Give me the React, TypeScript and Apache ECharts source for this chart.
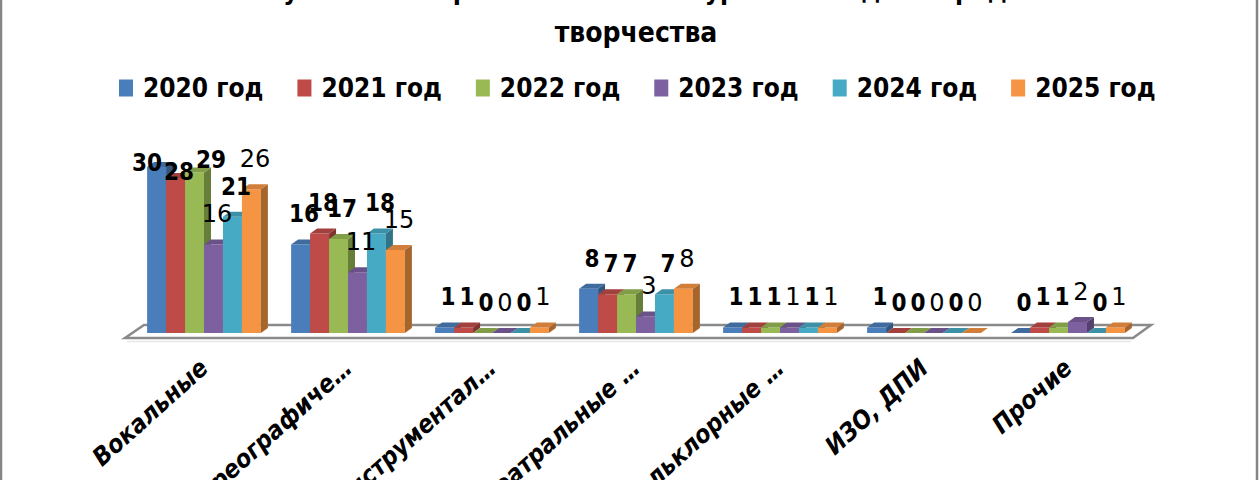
import React, { useEffect, useRef } from "react";
import * as echarts from "echarts";

const titleLine1 = "Число участников фестивалей и конкурсов по видам народного";
const titleLine2 = "творчества";
const categories = ["Вокальные", "Хореографиче…", "Инструментал…", "Театральные …", "Фольклорные …", "ИЗО, ДПИ", "Прочие"];
const years = ["2020 год", "2021 год", "2022 год", "2023 год", "2024 год", "2025 год"];
const v2020 = [30, 16, 1, 8, 1, 1, 0];
const v2021 = [28, 18, 1, 7, 1, 0, 1];
const v2022 = [29, 17, 0, 7, 1, 0, 1];
const v2023 = [16, 11, 0, 3, 1, 0, 2];
const v2024 = [21, 18, 0, 7, 1, 0, 0];
const v2025 = [26, 15, 1, 8, 1, 0, 1];
const seriesValues = [v2020, v2021, v2022, v2023, v2024, v2025];

const colors = ["#4A7EBB", "#BE4B48", "#98B954", "#7D60A0", "#46AAC5", "#F59443"];
const boldLabel = [true, true, true, false, true, false];

const COND = "'DejaVu Sans Condensed', 'DejaVu Sans', sans-serif";
const REG = "'DejaVu Sans', sans-serif";

function shade(hex: string, f: number) {
  const n = parseInt(hex.slice(1), 16);
  const r = Math.round(((n >> 16) & 255) * f);
  const g = Math.round(((n >> 8) & 255) * f);
  const b = Math.round((n & 255) * f);
  return `rgb(${r},${g},${b})`;
}

const DX = 7;
const DY = 5;

function geom(si: number, api: any) {
  const cat = api.value(0);
  const val = api.value(1);
  const base = api.coord([cat, 0]);
  const top = api.coord([cat, val]);
  const band = api.size([1, 0])[0];
  const bw = (band * 0.79) / 6;
  const x0 = base[0] - bw * 3 + si * bw;
  return { val, x0, x1: x0 + bw, bw, yb: base[1], yt: top[1] };
}

function barRenderer(si: number) {
  return (_params: any, api: any) => {
    const { x0, x1, bw, yb, yt } = geom(si, api);
    const c = colors[si];
    return {
      type: "group",
      children: [
        { type: "rect", shape: { x: x0, y: yt, width: bw, height: yb - yt }, style: { fill: c } },
        {
          type: "polygon",
          shape: { points: [[x1, yb], [x1 + DX, yb - DY], [x1 + DX, yt - DY], [x1, yt]] },
          style: { fill: shade(c, 0.68) },
        },
        {
          type: "polygon",
          shape: { points: [[x0, yt], [x0 + DX, yt - DY], [x1 + DX, yt - DY], [x1, yt]] },
          style: { fill: shade(c, 0.85) },
        },
      ],
    };
  };
}

function labelRenderer(si: number) {
  return (_params: any, api: any) => {
    const { val, x0, bw, yt } = geom(si, api);
    let x = x0 + bw / 2 + 3.5;
    let y = yt - 30;
    if (y < 150) {
      // labels near the plot top are pulled down and spread apart
      y = Math.min(yt - 4, 172);
      if (y > 165 && si !== 1) y = 160;
      x += (si - 1) * 13;
    }
    return {
      type: "text",
      x,
      y,
      style: {
        text: String(val),
        fill: "#000",
        align: "center",
        verticalAlign: "middle",
        font: boldLabel[si] ? `bold 24px ${COND}` : `24px ${REG}`,
      },
    };
  };
}

export default function App() {
  const ref = useRef<HTMLDivElement>(null);
  useEffect(() => {
    if (!ref.current) return;
    const chart = echarts.init(ref.current, undefined, { renderer: "svg" });
    const bars = years.map((name, si) => ({
      name,
      type: "custom",
      z: 2,
      itemStyle: { color: colors[si] },
      renderItem: barRenderer(si),
      data: seriesValues[si].map((v, i) => [i, v]),
    }));
    const labels = years.map((name, si) => ({
      name,
      type: "custom",
      z: 5,
      itemStyle: { color: colors[si] },
      renderItem: labelRenderer(si),
      data: seriesValues[si].map((v, i) => [i, v]),
    }));
    chart.setOption({
      animation: false,
      backgroundColor: "#fff",
      grid: { left: 132, right: 120, top: 167, bottom: 147, containLabel: false, outerBoundsMode: "none" },
      xAxis: {
        type: "category",
        data: categories,
        axisLine: { show: false },
        axisTick: { show: false },
        splitLine: { show: false },
        axisLabel: {
          interval: 0,
          rotate: 42,
          margin: 31,
          fontSize: 25,
          fontWeight: "bold",
          fontStyle: "italic",
          fontFamily: COND,
          color: "#000",
        },
      },
      yAxis: { type: "value", min: 0, max: 30, show: false },
      legend: {
        data: years,
        top: 70,
        left: 114,
        icon: "rect",
        itemWidth: 14,
        itemHeight: 17,
        itemGap: 34,
        textStyle: { fontSize: 26, fontWeight: "bold", fontFamily: COND, color: "#000", padding: [0, 0, 0, 5] },
      },
      graphic: [
        {
          type: "rect",
          z: -10,
          shape: { x: 1, y: -20, width: 1256, height: 520 },
          style: { fill: "none", stroke: "#868686", lineWidth: 2.5 },
        },
        {
          type: "polygon",
          z: -5,
          shape: { points: [[125, 338], [1133, 338], [1151, 325], [144, 325]] },
          style: { fill: "#fff", stroke: "#8a8a8a", lineWidth: 2.5 },
        },
        {
          type: "line",
          z: -5,
          shape: { x1: 127, y1: 341.5, x2: 1131, y2: 341.5 },
          style: { stroke: "#e8e8e8", lineWidth: 1.5 },
        },
        {
          type: "text",
          x: 630,
          y: -10,
          style: { text: titleLine1, align: "center", verticalAlign: "middle", font: `bold 26px ${COND}`, fill: "#000" },
        },
        {
          type: "text",
          x: 636,
          y: 32,
          style: { text: titleLine2, align: "center", verticalAlign: "middle", font: `bold 28px ${COND}`, fill: "#000" },
        },
      ],
      series: [...bars, ...labels],
    });
    return () => chart.dispose();
  }, []);
  return (
    <div style={{ position: "fixed", left: 0, top: 0, width: 1260, height: 480, overflow: "hidden", background: "#fff" }}>
      <div ref={ref} style={{ width: 1260, height: 480 }} />
    </div>
  );
}
